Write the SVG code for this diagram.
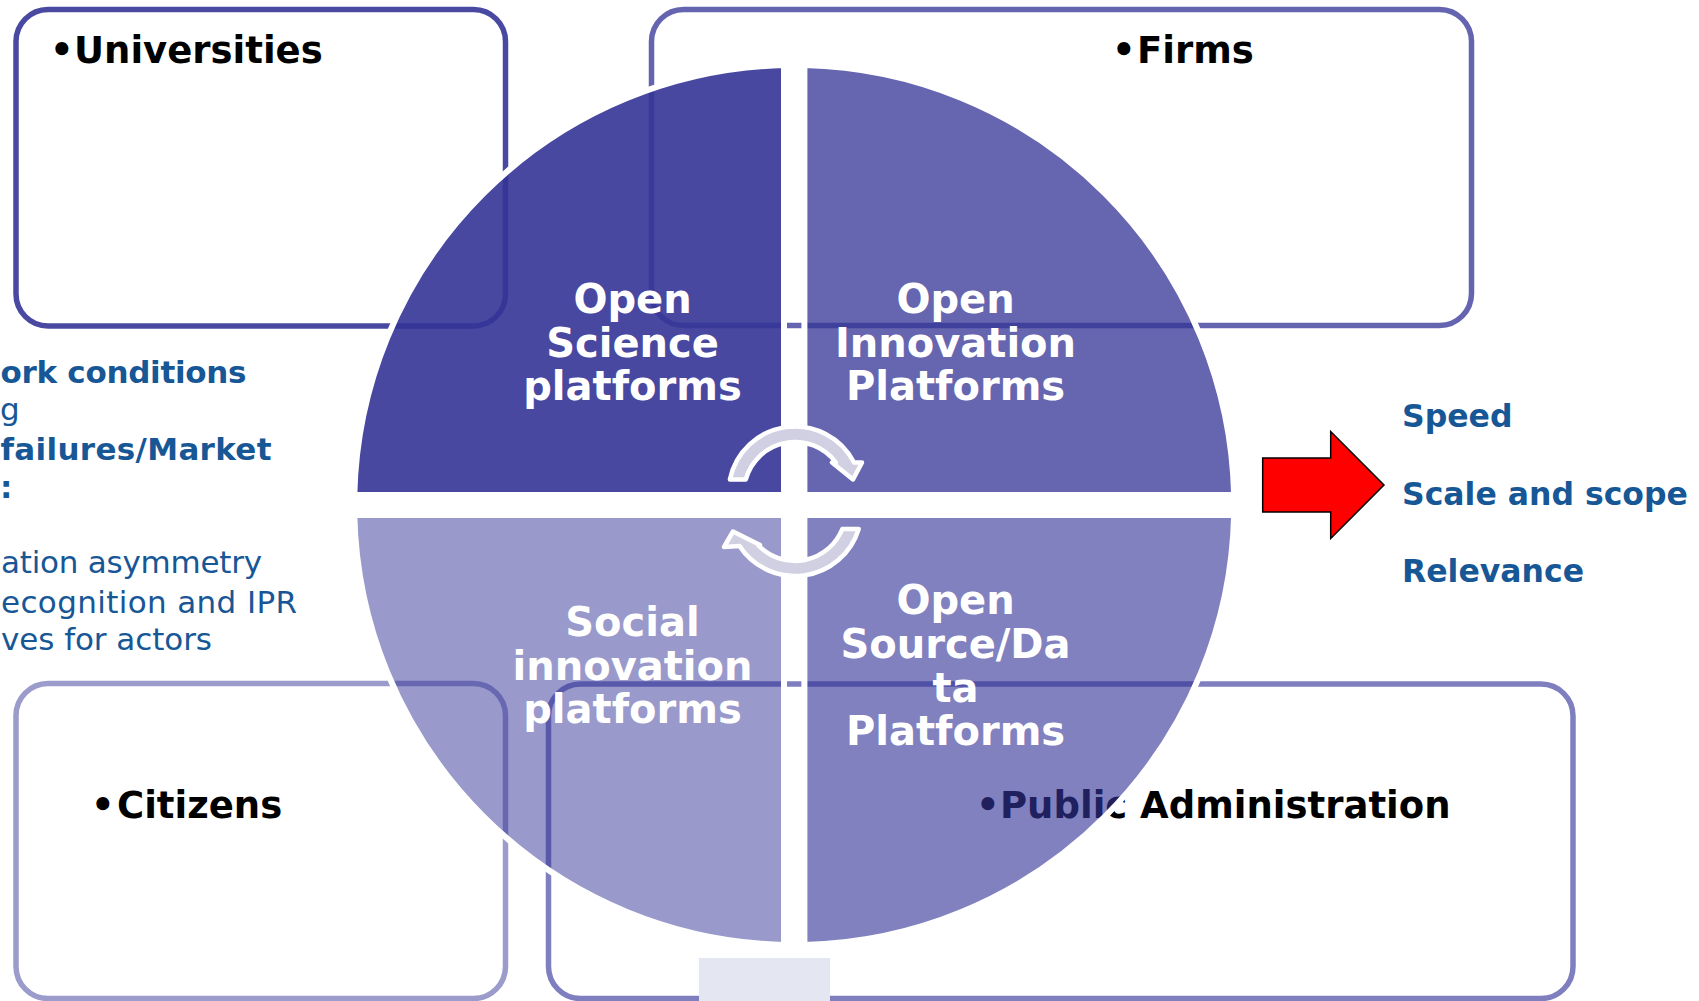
<svg xmlns="http://www.w3.org/2000/svg" width="1699" height="1001" viewBox="0 0 1699 1001">
<defs>
<style>
.box{fill:#ffffff;stroke-width:5.5}
.lbl{font-family:"DejaVu Sans","Liberation Sans",sans-serif;font-weight:bold;font-size:37px;fill:#000}
.q{fill:#343497;stroke:#ffffff;stroke-width:6}
.qt{font-family:"DejaVu Sans","Liberation Sans",sans-serif;font-weight:bold;font-size:40px;fill:#ffffff;text-anchor:middle}
.cyc{fill:#d0d0e2;stroke:#ffffff;stroke-width:4.5;stroke-linejoin:round}
.side{font-family:"DejaVu Sans","Liberation Sans",sans-serif;font-size:31px;fill:#175796}
.b{font-weight:bold}
.res{font-family:"DejaVu Sans","Liberation Sans",sans-serif;font-weight:bold;font-size:31.5px;fill:#175796}
</style>
</defs>
<rect width="1699" height="1001" fill="#ffffff"/>

<g id="box-universities">
<rect class="box" x="16" y="9.5" width="489.5" height="316.5" rx="32" stroke="#4949a2"/>
<text class="lbl" y="63"><tspan x="50">•</tspan><tspan x="74">Universities</tspan></text>
</g>
<g id="box-firms">
<rect class="box" x="651.5" y="9.5" width="820" height="316" rx="32" stroke="#6464b0"/>
<text class="lbl" y="63"><tspan x="1112">•</tspan><tspan x="1137">Firms</tspan></text>
</g>
<g id="box-citizens">
<rect class="box" x="16" y="683.5" width="489.5" height="315" rx="32" stroke="#9b9bcc"/>
<text class="lbl" y="818"><tspan x="91">•</tspan><tspan x="117">Citizens</tspan></text>
</g>
<g id="box-public-administration">
<rect class="box" x="548.5" y="684" width="1024.5" height="314.5" rx="32" stroke="#7f7fc0"/>
<text class="lbl" y="818"><tspan x="976">•</tspan><tspan x="1000">Public Administration</tspan></text>
</g>
<rect id="faint-block" x="699" y="958" width="131" height="43" fill="#e4e6f1"/>

<g id="q-open-science">
<path class="q" fill-opacity="0.9" d="M784,495 L354.3,495 A440,440 0 0 1 784,65.1 Z"/>
</g>
<g id="q-open-innovation">
<path class="q" fill-opacity="0.76" d="M804.4,495 L804.4,65.1 A440,440 0 0 1 1234.1,495 Z"/>
</g>
<g id="q-open-source">
<path class="q" fill-opacity="0.62" d="M804.4,515 L1234.1,515 A440,440 0 0 1 804.4,944.9 Z"/>
</g>
<g id="q-social-innovation">
<path class="q" fill-opacity="0.5" d="M784,515 L784,944.9 A440,440 0 0 1 354.3,515 Z"/>
</g>

<g id="connectors">
<path id="cycle-top" class="cyc" d="M745.8,479.5 L729.9,479.5 A66.5,66.5 0 0 1 854.1,462.5 L862,462.5 L853,479.5 L832,462.5 L835.9,462.5 A51,51 0 0 0 745.8,479.5 Z"/>
<path id="cycle-bottom" class="cyc" d="M842.3,529 L858.7,529 A66.5,66.5 0 0 1 739.5,546 L724,547 L733,531.5 L760,545 L758.5,545.5 A51,51 0 0 0 842.3,529 Z"/>
</g>

<g id="label-open-science">
<text class="qt"><tspan x="632.5" y="313">Open</tspan><tspan x="632.5" y="357">Science</tspan><tspan x="632.5" y="400">platforms</tspan></text>
</g>
<g id="label-open-innovation">
<text class="qt"><tspan x="955.5" y="313">Open</tspan><tspan x="955.5" y="357">Innovation</tspan><tspan x="955.5" y="400">Platforms</tspan></text>
</g>
<g id="label-social-innovation">
<text class="qt"><tspan x="632.5" y="636">Social</tspan><tspan x="632.5" y="679.5">innovation</tspan><tspan x="632.5" y="723">platforms</tspan></text>
</g>
<g id="label-open-source">
<text class="qt"><tspan x="955.5" y="613.5">Open</tspan><tspan x="955.5" y="658">Source/Da</tspan><tspan x="955.5" y="701.5">ta</tspan><tspan x="955.5" y="745">Platforms</tspan></text>
</g>

<g id="side-text">
<text class="side b" x="0.5" y="383" textLength="246">ork conditions</text>
<text class="side" x="0" y="420">g</text>
<text class="side b" x="0.5" y="460" textLength="271">failures/Market</text>
<text class="side b" x="0" y="498">:</text>
<text class="side" x="1" y="573" textLength="261">ation asymmetry</text>
<text class="side" x="1" y="612.5" textLength="296">ecognition and IPR</text>
<text class="side" x="1" y="650" textLength="211">ves for actors</text>
</g>

<g id="red-arrow">
<polygon points="1262.7,458 1330.7,458 1330.7,431.5 1384,485 1330.7,538.5 1330.7,512 1262.7,512" fill="#ff0000" stroke="#000000" stroke-width="1.5"/>
</g>

<g id="results">
<text class="res" x="1402" y="427">Speed</text>
<text class="res" x="1402" y="504.5">Scale and scope</text>
<text class="res" x="1402" y="582">Relevance</text>
</g>
</svg>
